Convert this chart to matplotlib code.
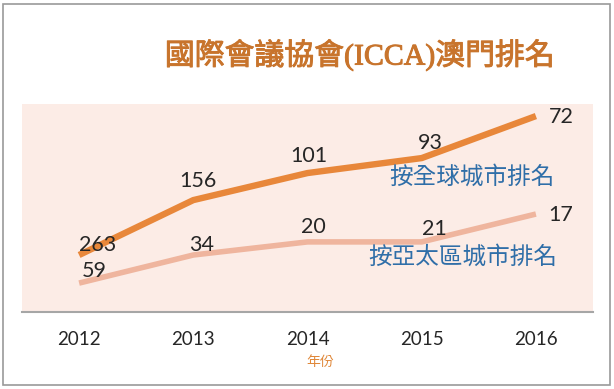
import matplotlib.pyplot as plt
import matplotlib.patheffects as pe
from matplotlib.patches import Rectangle

# data
years = ['2012', '2013', '2014', '2015', '2016']
global_rank = [263, 156, 101, 93, 72]
asia_rank = [59, 34, 20, 21, 17]
# line heights as drawn in the chart (0-100 scale of the plot area)
global_level = [27.4, 53.8, 66.8, 74.0, 94.2]
asia_level = [13.9, 27.4, 33.7, 33.7, 47.1]

# label offsets in points (dx, dy)
global_off = [(13, 7), (3, 14), (1, 12), (6, 11), (18, -1)]
asia_off = [(11, 9), (6, 7), (4, 11), (9, 9), (18, -1)]

cjk = ['Noto Sans CJK TC', 'DejaVu Sans']
num_font = 'Lato'

fig = plt.figure(figsize=(6.14, 3.89), dpi=100)
fig.patch.set_facecolor('white')
ax = fig.add_axes([22 / 614, 1 - 312 / 389, (593 - 22) / 614, (312 - 104) / 389])
ax.set_facecolor('#fcece6')

x = list(range(len(years)))
ax.plot(x, global_level, color='#e8873a', lw=4.6, solid_capstyle='butt', zorder=3)
ax.plot(x, asia_level, color='#efb59e', lw=4.0, solid_capstyle='butt', zorder=2)

for xi, yi, v, off in zip(x, global_level, global_rank, global_off):
    ax.annotate(str(v), (xi, yi), xytext=off, textcoords='offset points',
                ha='center', va='center', fontsize=15.5, family=num_font, color='#262626')
for xi, yi, v, off in zip(x, asia_level, asia_rank, asia_off):
    ax.annotate(str(v), (xi, yi), xytext=off, textcoords='offset points',
                ha='center', va='center', fontsize=15.5, family=num_font, color='#262626')

ax.text(3.44, 64.9, '按全球城市排名', ha='center', va='center', fontsize=17,
        family=cjk, color='#2f6ea8')
ax.text(3.36, 26.4, '按亞太區城市排名', ha='center', va='center', fontsize=17,
        family=cjk, color='#2f6ea8')

ax.set_xlim(-0.5, 4.5)
ax.set_ylim(0, 100)
ax.set_xticks(x)
ax.set_xticklabels(years, fontsize=13.5, family=num_font, color='#262626')
ax.tick_params(axis='x', length=0, pad=14)
ax.set_yticks([])
for s in ['top', 'left', 'right']:
    ax.spines[s].set_visible(False)
ax.spines['bottom'].set_color('#a6a6a6')
ax.spines['bottom'].set_linewidth(1.5)

title = fig.text(360 / 614, 1 - 55 / 389, '國際會議協會(ICCA)澳門排名', ha='center',
                 va='center', fontsize=21.5, family=['Liberation Serif', 'Noto Sans CJK TC'],
                 color='#c8742c')
title.set_path_effects([pe.withStroke(linewidth=0.7, foreground='#c8742c')])
fig.text(320 / 614, 1 - 362 / 389, '年份', ha='center', va='center', fontsize=10,
         family=cjk, color='#e0883a')

fig.add_artist(Rectangle((3 / 614, 4 / 389), 607 / 614, 381 / 389, transform=fig.transFigure,
                         fill=False, edgecolor='#9a9a9a', lw=1.2))

fig.savefig('out.png', dpi=100)
